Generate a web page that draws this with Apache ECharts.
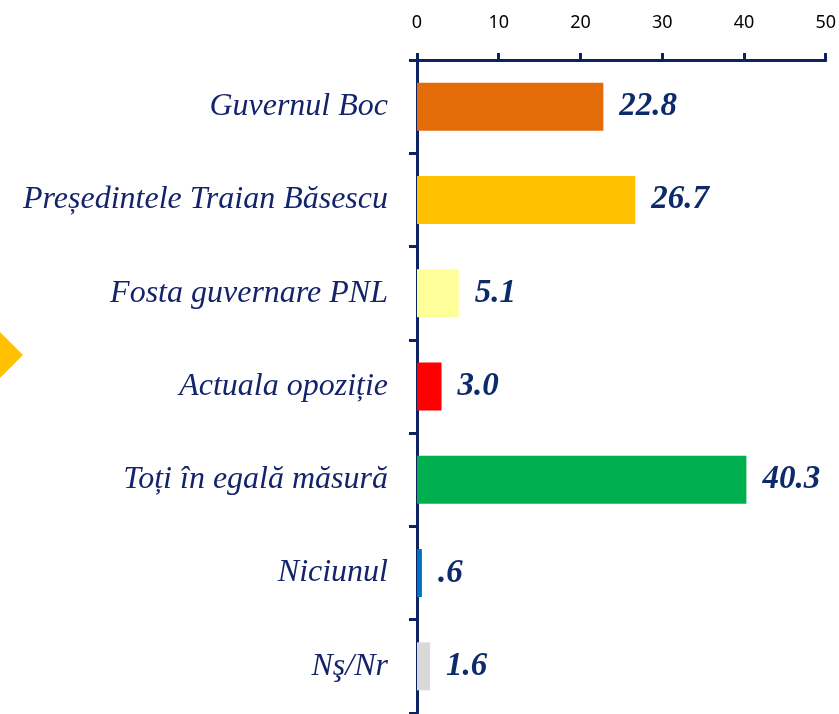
<!DOCTYPE html>
<html>
<head>
<meta charset="utf-8">
<script src="https://cdn.jsdelivr.net/npm/echarts@6/dist/echarts.min.js"></script>
<style>
  html, body { margin: 0; padding: 0; background: #fff; }
  #chart { width: 839px; height: 714px; }
</style>
</head>
<body>
<div id="chart"></div>
<script>
var categories = ["Guvernul Boc", "Președintele Traian Băsescu", "Fosta guvernare PNL", "Actuala opoziție", "Toți în egală măsură", "Niciunul", "Nş/Nr"];
var values = [22.8, 26.7, 5.1, 3.0, 40.3, 0.6, 1.6];
var barColors = ["#E36C09", "#FFC000", "#FFFF99", "#FF0000", "#00B050", "#0070C0", "#D9D9D9"];
var xTicks = [0, 10, 20, 30, 40, 50];

var navy = "#0d2260";
var chart = echarts.init(document.getElementById("chart"));

var option = {
  animation: false,
  grid: { left: 417, right: 13, top: 60, bottom: 1, containLabel: false },
  xAxis: {
    type: "value",
    position: "top",
    min: xTicks[0],
    max: xTicks[xTicks.length - 1],
    interval: 10,
    splitLine: { show: false },
    axisLine: { show: true, lineStyle: { color: navy, width: 3 } },
    axisTick: { show: true, length: 7, lineStyle: { color: navy, width: 3 } },
    axisLabel: { color: "#000", fontFamily: "Noto Sans", fontSize: 18, margin: 28 }
  },
  yAxis: {
    type: "category",
    inverse: true,
    data: categories,
    axisLine: { show: true, lineStyle: { color: navy, width: 3 } },
    axisTick: { show: true, length: 8, lineStyle: { color: navy, width: 3 } },
    axisLabel: {
      color: "#14246a",
      fontFamily: "Liberation Serif",
      fontStyle: "italic",
      fontSize: 32,
      margin: 29
    }
  },
  series: [{
    type: "bar",
    barWidth: 48,
    data: values.map(function (v, i) {
      return { value: v, itemStyle: { color: barColors[i] } };
    }),
    label: {
      show: true,
      position: "right",
      distance: 16,
      color: "#0d2a6b",
      fontFamily: "Liberation Serif",
      fontStyle: "italic",
      fontWeight: "bold",
      fontSize: 33,
      formatter: function (p) {
        var s = p.value.toFixed(1);
        return s.charAt(0) === "0" ? s.slice(1) : s;
      }
    }
  }],
  graphic: [{
    type: "polygon",
    shape: { points: [[0, 332], [23, 355], [0, 378]] },
    style: { fill: "#FFC000" }
  }]
};
chart.setOption(option);
</script>
</body>
</html>
